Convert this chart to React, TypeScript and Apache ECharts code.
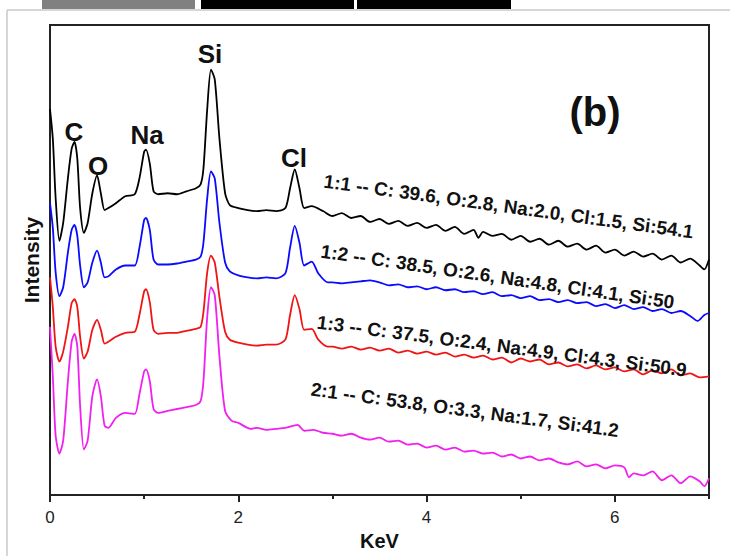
import React, { useEffect, useRef } from "react";
import * as echarts from "echarts";

const FONT = "'Liberation Sans', Arial, Helvetica, sans-serif";

const X_MAJOR_TICKS = [0, 2, 4, 6];
const X_MINOR_TICKS = [1, 3, 5, 7];

const SERIES_NAMES = ["1:1", "1:2", "1:3", "2:1"];
const SERIES_COLORS = ["#000000", "#0a0aff", "#f01414", "#f020f0"];

const SERIES_1_1: [number, number][] = [
  [0, 390], [0.03, 360], [0.06, 300], [0.1, 257], [0.14, 275], [0.19, 320], [0.23, 350], [0.26, 357], [0.29, 340],
  [0.32, 290], [0.36, 265], [0.4, 275], [0.45, 305], [0.5, 323], [0.54, 305], [0.58, 288], [0.62, 290], [0.7, 295],
  [0.8, 302], [0.9, 304], [0.95, 320], [1.0, 347], [1.02, 349], [1.06, 335], [1.1, 307], [1.15, 304], [1.25, 305],
  [1.35, 304], [1.45, 307], [1.55, 310], [1.6, 314], [1.63, 330], [1.67, 390], [1.71, 430], [1.75, 420], [1.8, 360],
  [1.86, 305], [1.91, 293], [2.0, 290], [2.1, 288], [2.2, 287], [2.3, 288], [2.4, 287], [2.5, 290], [2.55, 310],
  [2.6, 329], [2.65, 310], [2.7, 290], [2.78, 292], [2.9, 287], [3.0, 282], [3.1, 285], [3.2, 280], [3.3, 282],
  [3.4, 276], [3.5, 279], [3.6, 274], [3.7, 277], [3.8, 272], [3.9, 275], [4.0, 270], [4.1, 273], [4.2, 267],
  [4.3, 271], [4.4, 264], [4.5, 268], [4.55, 260], [4.6, 266], [4.7, 262], [4.8, 264], [4.9, 258], [5.0, 262],
  [5.1, 256], [5.2, 259], [5.3, 253], [5.4, 257], [5.5, 251], [5.6, 254], [5.7, 248], [5.8, 252], [5.9, 245],
  [6.0, 248], [6.1, 242], [6.2, 246], [6.3, 241], [6.4, 244], [6.5, 238], [6.6, 242], [6.7, 235], [6.8, 239],
  [6.9, 232], [6.95, 228], [7.0, 238],
];

const SERIES_1_2: [number, number][] = [
  [0, 295], [0.03, 270], [0.06, 225], [0.1, 201], [0.14, 210], [0.19, 245], [0.23, 268], [0.26, 273], [0.29, 262],
  [0.32, 232], [0.36, 210], [0.4, 215], [0.45, 235], [0.5, 247], [0.54, 235], [0.58, 220], [0.62, 221], [0.7, 228],
  [0.8, 232], [0.9, 232], [0.95, 250], [1.0, 278], [1.02, 280], [1.06, 268], [1.1, 238], [1.15, 233], [1.25, 233],
  [1.35, 234], [1.45, 236], [1.55, 238], [1.6, 241], [1.63, 255], [1.67, 300], [1.71, 327], [1.75, 320], [1.8, 275],
  [1.86, 235], [1.91, 226], [2.0, 222], [2.1, 220], [2.2, 219], [2.3, 220], [2.4, 219], [2.5, 224], [2.55, 250],
  [2.6, 272], [2.65, 255], [2.7, 232], [2.78, 236], [2.85, 224], [2.95, 215], [3.0, 215], [3.1, 214], [3.2, 215],
  [3.3, 216], [3.4, 217], [3.5, 215], [3.6, 212], [3.7, 213], [3.8, 210], [3.9, 211], [4.0, 208], [4.1, 210],
  [4.2, 207], [4.3, 208], [4.4, 205], [4.5, 206], [4.6, 203], [4.7, 205], [4.8, 201], [4.9, 202], [5.0, 199],
  [5.1, 201], [5.2, 197], [5.3, 198], [5.4, 195], [5.5, 197], [5.6, 194], [5.7, 195], [5.8, 191], [5.9, 193],
  [6.0, 189], [6.1, 192], [6.2, 188], [6.3, 190], [6.4, 186], [6.5, 188], [6.6, 184], [6.7, 186], [6.8, 181],
  [6.88, 176], [6.95, 182], [7.0, 184],
];

const SERIES_1_3: [number, number][] = [
  [0, 220], [0.03, 190], [0.06, 150], [0.1, 135], [0.14, 145], [0.19, 170], [0.23, 194], [0.26, 198], [0.29, 190],
  [0.32, 160], [0.36, 138], [0.4, 145], [0.45, 167], [0.5, 177], [0.54, 167], [0.58, 153], [0.62, 155], [0.7, 160],
  [0.8, 164], [0.9, 165], [0.95, 182], [1.0, 206], [1.02, 208], [1.06, 195], [1.1, 167], [1.15, 163], [1.25, 164],
  [1.35, 164], [1.45, 166], [1.55, 168], [1.6, 170], [1.63, 185], [1.67, 225], [1.71, 242], [1.75, 235], [1.8, 200],
  [1.86, 165], [1.91, 157], [2.0, 154], [2.1, 152], [2.2, 151], [2.3, 152], [2.4, 152], [2.5, 157], [2.55, 182],
  [2.6, 202], [2.65, 188], [2.7, 167], [2.78, 168], [2.85, 157], [2.95, 150], [3.0, 150], [3.1, 148], [3.2, 150],
  [3.3, 147], [3.4, 149], [3.5, 146], [3.6, 148], [3.7, 144], [3.8, 146], [3.9, 143], [4.0, 145], [4.1, 142],
  [4.2, 144], [4.3, 140], [4.4, 142], [4.5, 139], [4.6, 141], [4.7, 137], [4.8, 139], [4.9, 134], [5.0, 138],
  [5.1, 135], [5.2, 137], [5.3, 132], [5.4, 134], [5.5, 130], [5.6, 132], [5.7, 128], [5.8, 131], [5.9, 127],
  [6.0, 129], [6.1, 125], [6.2, 127], [6.3, 122], [6.4, 126], [6.5, 123], [6.6, 127], [6.7, 121], [6.8, 123],
  [6.9, 119], [7.0, 120],
];

const SERIES_2_1: [number, number][] = [
  [0, 170], [0.03, 120], [0.06, 60], [0.1, 42], [0.14, 55], [0.19, 115], [0.23, 155], [0.26, 163], [0.29, 150],
  [0.32, 90], [0.36, 46], [0.4, 55], [0.45, 100], [0.5, 117], [0.54, 100], [0.58, 70], [0.62, 68], [0.7, 78],
  [0.8, 83], [0.9, 82], [0.95, 102], [1.0, 125], [1.02, 127], [1.06, 115], [1.1, 87], [1.15, 83], [1.25, 85],
  [1.35, 87], [1.45, 89], [1.55, 91], [1.6, 95], [1.63, 115], [1.67, 180], [1.71, 210], [1.75, 202], [1.8, 140],
  [1.86, 85], [1.93, 75], [2.0, 73], [2.13, 67], [2.2, 68], [2.3, 66], [2.4, 67], [2.5, 68], [2.63, 71], [2.7, 65],
  [2.8, 66], [2.9, 63], [3.0, 62], [3.1, 60], [3.2, 62], [3.3, 58], [3.4, 56], [3.5, 58], [3.6, 54], [3.7, 55],
  [3.8, 51], [3.9, 52], [4.0, 48], [4.1, 50], [4.2, 46], [4.3, 48], [4.4, 44], [4.5, 45], [4.6, 42], [4.7, 43],
  [4.8, 39], [4.9, 41], [5.0, 37], [5.1, 39], [5.2, 35], [5.3, 37], [5.4, 33], [5.5, 31], [5.6, 34], [5.7, 29],
  [5.8, 31], [5.9, 27], [6.0, 30], [6.1, 28], [6.15, 18], [6.2, 22], [6.3, 20], [6.4, 24], [6.5, 15], [6.6, 20],
  [6.7, 12], [6.8, 19], [6.9, 14], [6.95, 9], [7.0, 17],
];

const SERIES_DATA = [SERIES_1_1, SERIES_1_2, SERIES_1_3, SERIES_2_1];

const PEAK_LABELS = ["C", "O", "Na", "Si", "Cl"];
const COMPOSITION_LABELS = [
  "1:1 -- C: 39.6, O:2.8, Na:2.0, Cl:1.5, Si:54.1",
  "1:2 -- C: 38.5, O:2.6, Na:4.8, Cl:4.1, Si:50",
  "1:3 -- C: 37.5, O:2.4, Na:4.9, Cl:4.3, Si:50.9",
  "2:1 -- C: 53.8, O:3.3, Na:1.7, Si:41.2",
];
const PANEL_LABEL = "(b)";

// layout of annotations (pixel positions)
const PEAK_POS = [
  [74, 132],
  [98, 166],
  [147, 135],
  [210, 54],
  [294, 158],
];
const COMP_POS = [
  [324, 181, 7.9],
  [321, 251, 8.3],
  [317, 322, 7.4],
  [311, 389, 7.7],
];

function text(x: number, y: number, t: string, size: number, opts: any = {}) {
  return {
    type: "text",
    x,
    y,
    rotation: opts.rotation || 0,
    z: 100,
    style: {
      text: t,
      fill: opts.fill || "#111",
      font: `${opts.weight || "bold"} ${size}px ${FONT}`,
      align: opts.align || "center",
      verticalAlign: "middle",
      textAlign: opts.align || "center",
      textVerticalAlign: "middle",
    },
  };
}

export default function App() {
  const ref = useRef<HTMLDivElement>(null);

  useEffect(() => {
    if (!ref.current) return;
    const chart = echarts.init(ref.current, undefined, { renderer: "svg" });

    const graphics: any[] = [
      { type: "rect", shape: { x: 42, y: 0, width: 153, height: 9 }, style: { fill: "#808080" } },
      { type: "rect", shape: { x: 201, y: 0, width: 153, height: 9 }, style: { fill: "#000" } },
      { type: "rect", shape: { x: 357, y: 0, width: 154, height: 9 }, style: { fill: "#000" } },
      { type: "line", shape: { x1: 7, y1: 10, x2: 730, y2: 10 }, style: { stroke: "#c8c8c8", lineWidth: 1.5 } },
      { type: "line", shape: { x1: 7, y1: 10, x2: 7, y2: 556 }, style: { stroke: "#c8c8c8", lineWidth: 1.5 } },
    ];
    PEAK_LABELS.forEach((l, i) => graphics.push(text(PEAK_POS[i][0], PEAK_POS[i][1], l, 26)));
    graphics.push(text(595, 112, PANEL_LABEL, 40));
    COMPOSITION_LABELS.forEach((l, i) =>
      graphics.push(
        text(COMP_POS[i][0], COMP_POS[i][1], l, 19, {
          align: "left",
          rotation: (-COMP_POS[i][2] * Math.PI) / 180,
        })
      )
    );

    chart.setOption({
      animation: false,
      backgroundColor: "#fff",
      grid: {
        left: 50,
        right: 21,
        top: 25,
        bottom: 56,
        show: true,
        borderColor: "#222",
        borderWidth: 2,
        containLabel: false,
      },
      xAxis: [
        {
          type: "value",
          min: 0,
          max: 7,
          interval: 1,
          name: "KeV",
          nameLocation: "middle",
          nameGap: 27,
          nameTextStyle: { fontFamily: FONT, fontWeight: "bold", fontSize: 20, color: "#111" },
          axisLine: { show: true, onZero: false, lineStyle: { color: "#222", width: 2 } },
          axisTick: { show: true, customValues: X_MAJOR_TICKS, length: 7, lineStyle: { color: "#222", width: 2 } },
          axisLabel: { customValues: X_MAJOR_TICKS, fontFamily: FONT, fontSize: 17, color: "#222", margin: 14 },
          splitLine: { show: false },
        },
        {
          type: "value",
          min: 0,
          max: 7,
          interval: 1,
          position: "bottom",
          axisLine: { show: false },
          axisTick: { show: true, customValues: X_MINOR_TICKS, length: 4, lineStyle: { color: "#222", width: 2 } },
          axisLabel: { show: false },
          splitLine: { show: false },
        },
      ],
      yAxis: {
        type: "value",
        min: 0,
        max: 475,
        name: "Intensity",
        nameLocation: "middle",
        nameGap: 8,
        nameTextStyle: { fontFamily: FONT, fontWeight: "bold", fontSize: 21, color: "#111" },
        axisLine: { show: true, onZero: false, lineStyle: { color: "#222", width: 2 } },
        axisTick: { show: false },
        axisLabel: { show: false },
        splitLine: { show: false },
      },
      series: SERIES_DATA.map((d, i) => ({
        name: SERIES_NAMES[i],
        type: "line",
        data: d,
        showSymbol: false,
        smooth: 0.25,
        lineStyle: { color: SERIES_COLORS[i], width: 1.8 },
        itemStyle: { color: SERIES_COLORS[i] },
        z: 10 - i,
      })),
      graphic: graphics,
    });

    return () => chart.dispose();
  }, []);

  return (
    <div
      ref={ref}
      style={{ position: "fixed", left: 0, top: 0, width: 730, height: 556, background: "#fff" }}
    />
  );
}
